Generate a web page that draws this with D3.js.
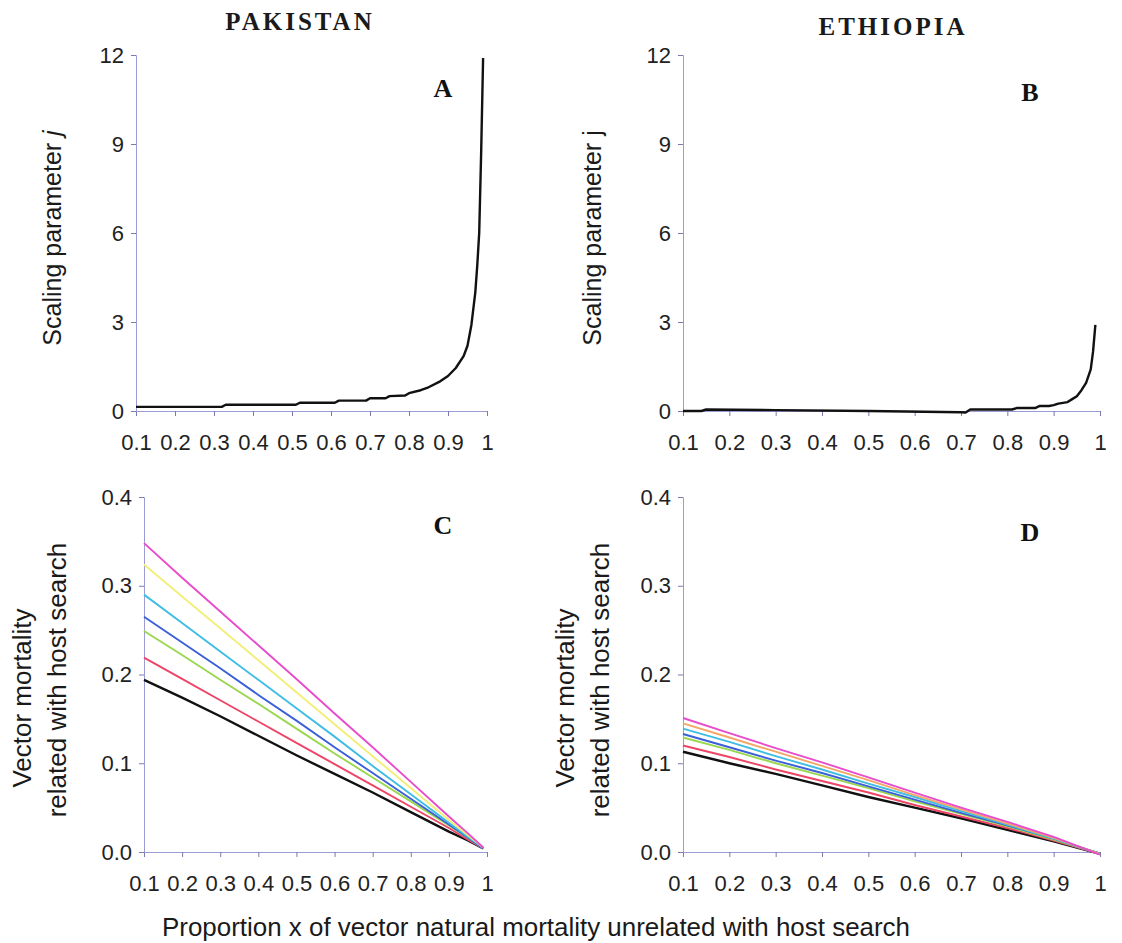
<!DOCTYPE html>
<html>
<head>
<meta charset="utf-8">
<script src="https://cdn.jsdelivr.net/npm/d3@7"></script>
<style>
  html, body { margin: 0; padding: 0; background: #fff; }
  svg { display: block; }
</style>
</head>
<body>
<svg id="chart" width="1122" height="943"></svg>
<script>
// ---------- DATA ----------
const xTicks = [0.1, 0.2, 0.3, 0.4, 0.5, 0.6, 0.7, 0.8, 0.9, 1];
const xTickLabels = ["0.1", "0.2", "0.3", "0.4", "0.5", "0.6", "0.7", "0.8", "0.9", "1"];
const jTicks = [0, 3, 6, 9, 12];
const mTicks = [0, 0.1, 0.2, 0.3, 0.4];
const mTickLabels = ["0.0", "0.1", "0.2", "0.3", "0.4"];

// Panel A – Pakistan scaling parameter j
const pakJx = [0.10, 0.32, 0.33, 0.51, 0.52, 0.61, 0.62, 0.69, 0.70, 0.74, 0.75, 0.79, 0.80, 0.83, 0.85, 0.88, 0.90, 0.92, 0.94, 0.95, 0.96, 0.97, 0.975, 0.98, 0.985, 0.99];
const pakJy = [0.14, 0.14, 0.21, 0.21, 0.28, 0.28, 0.35, 0.35, 0.43, 0.43, 0.50, 0.52, 0.60, 0.70, 0.80, 1.00, 1.18, 1.45, 1.85, 2.20, 2.90, 4.00, 4.90, 6.00, 8.70, 11.90];

// Panel B – Ethiopia scaling parameter j
const ethJx = [0.10, 0.14, 0.15, 0.30, 0.50, 0.70, 0.71, 0.72, 0.81, 0.82, 0.86, 0.87, 0.89, 0.90, 0.91, 0.93, 0.94, 0.95, 0.96, 0.97, 0.98, 0.985, 0.99];
const ethJy = [0.00, 0.00, 0.05, 0.03, 0.00, -0.04, -0.05, 0.05, 0.05, 0.10, 0.10, 0.17, 0.17, 0.20, 0.25, 0.30, 0.40, 0.50, 0.70, 0.95, 1.40, 2.00, 2.90];

// Panel C – Pakistan vector mortality related with host search
const pakMx = [0.10, 0.20, 0.30, 0.40, 0.50, 0.60, 0.70, 0.80, 0.90, 0.95, 0.99];
const pakBlack   = [0.194, 0.174, 0.153, 0.131, 0.109, 0.088, 0.067, 0.045, 0.023, 0.013, 0.004];
const pakRed     = [0.219, 0.195, 0.171, 0.147, 0.123, 0.099, 0.075, 0.051, 0.027, 0.014, 0.004];
const pakGreen   = [0.249, 0.222, 0.194, 0.167, 0.139, 0.111, 0.084, 0.057, 0.030, 0.016, 0.004];
const pakBlue    = [0.265, 0.236, 0.207, 0.177, 0.148, 0.118, 0.089, 0.060, 0.031, 0.016, 0.004];
const pakCyan    = [0.290, 0.258, 0.226, 0.194, 0.162, 0.130, 0.097, 0.065, 0.033, 0.017, 0.005];
const pakYellow  = [0.324, 0.288, 0.252, 0.216, 0.180, 0.144, 0.108, 0.072, 0.036, 0.019, 0.005];
const pakMagenta = [0.348, 0.309, 0.271, 0.233, 0.195, 0.156, 0.118, 0.079, 0.040, 0.021, 0.005];

// Panel D – Ethiopia vector mortality related with host search
const ethMx = [0.10, 0.20, 0.30, 0.40, 0.50, 0.60, 0.70, 0.80, 0.90, 1.00];
const ethBlack   = [0.113, 0.100, 0.088, 0.075, 0.062, 0.050, 0.038, 0.025, 0.012, -0.002];
const ethRed     = [0.120, 0.107, 0.093, 0.080, 0.067, 0.053, 0.040, 0.027, 0.013, -0.002];
const ethGreen   = [0.129, 0.115, 0.100, 0.086, 0.072, 0.057, 0.043, 0.029, 0.014, -0.002];
const ethBlue    = [0.133, 0.118, 0.103, 0.089, 0.074, 0.059, 0.044, 0.030, 0.015, -0.002];
const ethCyan    = [0.139, 0.124, 0.108, 0.093, 0.077, 0.062, 0.046, 0.031, 0.015, -0.002];
const ethOrange  = [0.145, 0.129, 0.113, 0.097, 0.081, 0.064, 0.048, 0.032, 0.016, -0.002];
const ethMagenta = [0.151, 0.134, 0.117, 0.101, 0.084, 0.067, 0.050, 0.034, 0.017, -0.003];

// ---------- DRAWING ----------
const svg = d3.select("#chart");
const SANS = "'Liberation Sans', Arial, sans-serif";
const SERIF = "'Liberation Serif', 'Times New Roman', serif";
const AXIS = "#9c9cd4";

function panel(opt) {
  const x = d3.scaleLinear().domain([0.1, 1]).range([opt.x0, opt.x1]);
  const y = d3.scaleLinear().domain(opt.yDomain).range([opt.yBot, opt.yTop]);
  const g = svg.append("g");

  const xa = g.append("g").attr("transform", `translate(0,${y(0)})`)
    .call(d3.axisBottom(x).tickValues(xTicks).tickSize(5).tickFormat((d, i) => xTickLabels[i]));
  xa.select(".domain").attr("stroke", AXIS);
  xa.selectAll(".tick line").attr("stroke", "#7a7ab0");
  xa.selectAll(".tick text").attr("font-family", SANS).attr("font-size", 22)
    .attr("fill", "#222").attr("y", 23).attr("dy", "0.71em");

  const ya = g.append("g").attr("transform", `translate(${opt.x0},0)`)
    .call(d3.axisLeft(y).tickValues(opt.yTicks).tickSize(5).tickFormat((d, i) => opt.yLabels[i]));
  ya.select(".domain").attr("stroke", AXIS);
  ya.selectAll(".tick line").attr("stroke", "#7a7ab0");
  ya.selectAll(".tick text").attr("font-family", SANS).attr("font-size", 22)
    .attr("fill", "#222").attr("x", -12);

  const line = d3.line().x(d => x(d[0])).y(d => y(d[1]));
  opt.series.forEach(s => {
    g.append("path").datum(d3.zip(s.x, s.y))
      .attr("d", line).attr("fill", "none")
      .attr("stroke", s.color).attr("stroke-width", s.width)
      .attr("stroke-linejoin", "round");
  });

  g.append("text").attr("x", opt.letterX).attr("y", opt.letterY)
    .attr("font-family", SERIF).attr("font-weight", "bold").attr("font-size", 26)
    .attr("fill", "#111").attr("text-anchor", "middle").text(opt.letter);
  return g;
}

panel({
  x0: 136, x1: 487, yTop: 55, yBot: 411, yDomain: [0, 12],
  yTicks: jTicks, yLabels: jTicks.map(String),
  series: [{ x: pakJx, y: pakJy, color: "#111", width: 2.4 }],
  letter: "A", letterX: 443, letterY: 97
});
panel({
  x0: 683, x1: 1100, yTop: 55, yBot: 411, yDomain: [0, 12],
  yTicks: jTicks, yLabels: jTicks.map(String),
  series: [{ x: ethJx, y: ethJy, color: "#111", width: 2.4 }],
  letter: "B", letterX: 1030, letterY: 101
});
panel({
  x0: 144, x1: 487, yTop: 497, yBot: 852, yDomain: [0, 0.4],
  yTicks: mTicks, yLabels: mTickLabels,
  series: [
    { x: pakMx, y: pakBlack,   color: "#111111", width: 2.4 },
    { x: pakMx, y: pakRed,     color: "#ee4466", width: 1.9 },
    { x: pakMx, y: pakGreen,   color: "#9ad64e", width: 1.9 },
    { x: pakMx, y: pakBlue,    color: "#3b5fd9", width: 1.9 },
    { x: pakMx, y: pakCyan,    color: "#3fbde3", width: 1.9 },
    { x: pakMx, y: pakYellow,  color: "#f2ee78", width: 1.9 },
    { x: pakMx, y: pakMagenta, color: "#e84ccc", width: 1.9 }
  ],
  letter: "C", letterX: 443, letterY: 534
});
panel({
  x0: 683, x1: 1100, yTop: 497, yBot: 852, yDomain: [0, 0.4],
  yTicks: mTicks, yLabels: mTickLabels,
  series: [
    { x: ethMx, y: ethBlack,   color: "#111111", width: 2.4 },
    { x: ethMx, y: ethRed,     color: "#ee4466", width: 1.9 },
    { x: ethMx, y: ethGreen,   color: "#9ad64e", width: 1.9 },
    { x: ethMx, y: ethBlue,    color: "#3b5fd9", width: 1.9 },
    { x: ethMx, y: ethCyan,    color: "#3fbde3", width: 1.9 },
    { x: ethMx, y: ethOrange,  color: "#f2a868", width: 1.9 },
    { x: ethMx, y: ethMagenta, color: "#e84ccc", width: 1.9 }
  ],
  letter: "D", letterX: 1030, letterY: 541
});

svg.append("text").attr("x", 300).attr("y", 30).attr("text-anchor", "middle")
  .attr("font-family", SERIF).attr("font-weight", "bold").attr("font-size", 25)
  .attr("letter-spacing", 3).attr("fill", "#1a1a1a").text("PAKISTAN");
svg.append("text").attr("x", 893).attr("y", 35).attr("text-anchor", "middle")
  .attr("font-family", SERIF).attr("font-weight", "bold").attr("font-size", 25)
  .attr("letter-spacing", 3).attr("fill", "#1a1a1a").text("ETHIOPIA");

function vText(cx, cy, parts, size) {
  const t = svg.append("text").attr("transform", `translate(${cx},${cy}) rotate(-90)`)
    .attr("text-anchor", "middle").attr("dy", "0.35em")
    .attr("font-family", SANS).attr("font-size", size || 25).attr("fill", "#1a1a1a");
  parts.forEach(p => t.append("tspan").attr("font-style", p.italic ? "italic" : "normal").text(p.text));
}
vText(52, 238, [{ text: "Scaling parameter " }, { text: "j", italic: true }]);
vText(592, 238, [{ text: "Scaling parameter j" }]);
vText(22, 698, [{ text: "Vector mortality" }], 26);
vText(57, 680, [{ text: "related with host search" }], 26);
vText(565, 698, [{ text: "Vector mortality" }], 26);
vText(600, 680, [{ text: "related with host search" }], 26);

svg.append("text").attr("x", 536).attr("y", 936).attr("text-anchor", "middle")
  .attr("font-family", SANS).attr("font-size", 25).attr("fill", "#1a1a1a")
  .attr("textLength", 748).attr("lengthAdjust", "spacingAndGlyphs")
  .text("Proportion x of vector natural mortality unrelated with host search");
</script>
</body>
</html>
